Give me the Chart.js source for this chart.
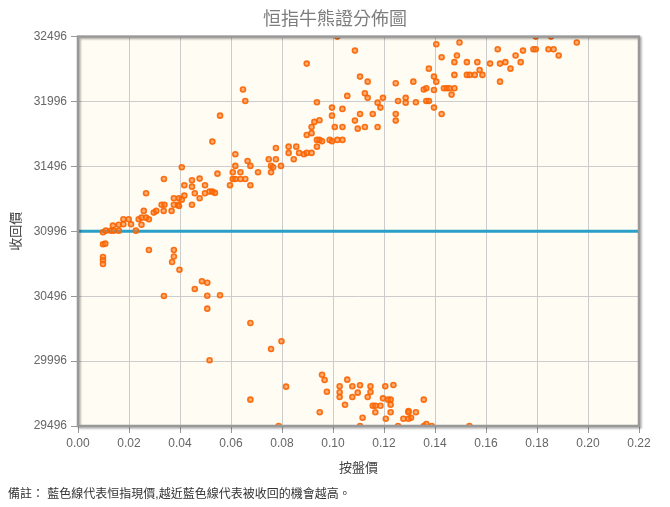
<!DOCTYPE html>
<html><head><meta charset="utf-8">
<script src="https://cdn.jsdelivr.net/npm/chart.js@4/dist/chart.umd.min.js"></script>
<style>
html,body{margin:0;padding:0;background:#fff;}
#wrap{position:relative;width:670px;height:507px;}
#note{position:absolute;left:8px;top:486px;font:12px "Liberation Sans","Noto Sans CJK TC",sans-serif;line-height:16px;color:#333;white-space:nowrap;}
</style>
</head><body>
<div id="wrap"><canvas id="c" width="670" height="507"></canvas>
<div id="note"></div></div>
<script>
const chartTitle = '恒指牛熊證分佈圖';
const xAxisTitle = '按盤價';
const yAxisTitle = '收回價';
const footNote = '備註： 藍色線代表恒指現價,越近藍色線代表被收回的機會越高。';
const xTicks = [0, 0.02, 0.04, 0.06, 0.08, 0.10, 0.12, 0.14, 0.16, 0.18, 0.20, 0.22];
const yTicks = [29496, 29996, 30496, 30996, 31496, 31996, 32496];
const spotLevel = 30996;

const bearPrice = [
0.0098,0.0109,0.0129,0.0140,0.0160,0.0227,0.0137,0.0160,0.0178,0.0178,
0.0199,0.0208,0.0238,0.0249,0.0267,0.0278,0.0249,0.0258,0.0297,0.0307,
0.0336,0.0367,0.0328,0.0339,0.0376,0.0392,0.0396,0.0447,0.0376,0.0396,
0.0407,0.0417,0.0477,0.0458,0.0498,0.0516,0.0527,0.0537,0.0417,0.0447,
0.0498,0.0447,0.0477,0.0337,0.0267,0.0407,0.0547,0.0527,0.0557,0.0647,
0.0656,0.0607,0.0637,0.0706,0.0757,0.0607,0.0617,0.0637,0.0656,0.0596,
0.0676,0.0617,0.0676,0.0617,0.0665,0.0748,0.0757,0.0765,0.0776,0.0776,
0.0796,0.0826,0.0856,0.0826,0.0867,0.0886,0.0897,0.0916,0.0846,0.0937,
0.0937,0.0947,0.0957,0.0987,0.0996,0.1017,0.1037,0.0897,0.0916,0.0916,
0.0927,0.0947,0.1007,0.1037,0.0996,0.0996,0.1037,0.0937,0.0897,0.1017,
0.1086,0.1056,0.1106,0.1136,0.1125,0.1136,0.1086,0.1097,0.1106,0.1125,
0.1156,0.1175,0.1175,0.1186,0.1196,0.1246,0.1246,0.1246,0.1255,0.1285,
0.1285,0.1315,0.1325,0.1356,0.1366,0.1366,0.1376,0.1376,0.1396,0.1405,
0.1396,0.1396,0.1426,0.1405,0.1426,0.1435,0.1446,0.1456,0.1476,0.1465,
0.1476,0.1476,0.1486,0.1496,0.1525,0.1525,0.1536,0.1556,0.1566,0.1575,
0.1586,0.1616,0.1646,0.1655,0.1655,0.1676,0.1696,0.1716,0.1736,0.1745,
0.1795,0.1786,0.1795,0.1855,0.1845,0.1865,0.1885,0.1956
];
const bearCall = [
30989,31001,31001,31001,31001,31001,31040,31047,31050,31089,
31089,31050,31089,31101,31101,31089,31047,31153,31140,31153,
31153,31153,31201,31201,31201,31201,31191,31201,31251,31251,
31240,31271,31251,31289,31289,31302,31302,31292,31351,31340,
31351,31389,31402,31399,31289,31490,31440,31687,31887,32088,
32000,31451,31451,31451,31451,31399,31399,31399,31399,31351,
31351,31500,31500,31590,31538,31551,31500,31490,31551,31638,
31500,31648,31648,31600,31600,31590,31600,31600,31551,31648,
31700,31700,31690,31700,31690,31700,31700,31738,31752,31800,
31839,31852,31800,31800,31949,31887,31939,31990,32288,32496,
32388,32039,32188,32149,32060,32024,31849,31787,31900,31800,
31900,31800,31987,31949,32024,32137,31900,31849,32000,32024,
31987,32149,31990,32088,32098,32000,32000,32249,32188,32149,
32085,31949,31900,32437,32337,32098,32098,32098,32098,32049,
32299,32201,32350,32450,32299,32201,32201,32201,32299,32239,
32201,32288,32399,32288,32149,32299,32249,32350,32299,32388,
32496,32399,32399,32496,32399,32399,32350,32450
];
const bullPrice = [
0.0098,0.0107,0.0098,0.0098,0.0098,0.0278,0.0376,0.0376,0.0369,0.0398,
0.0486,0.0507,0.0458,0.0337,0.0507,0.0557,0.0507,0.0676,0.0757,0.0516,
0.0676,0.0798,0.0816,0.0787,0.0957,0.0967,0.0976,0.0948,0.1026,0.1026,
0.1026,0.1047,0.1056,0.1076,0.1076,0.1097,0.1106,0.1106,0.1116,0.1136,
0.1147,0.1147,0.1156,0.1166,0.1186,0.1166,0.1196,0.1205,0.1216,0.1226,
0.1226,0.1226,0.1237,0.1207,0.1255,0.1276,0.1296,0.1296,0.1306,0.1296,
0.1325,0.1356,0.1356,0.1366,0.1387,0.1535
];
const bullCall = [
30896,30901,30798,30773,30744,30852,30852,30802,30760,30700,
30611,30600,30552,30498,30500,30503,30400,30290,30089,30002,
29699,30149,29799,29496,29891,29850,29760,29602,29802,29756,
29719,29660,29853,29802,29719,29753,29810,29496,29560,29719,
29802,29758,29652,29652,29652,29602,29709,29802,29699,29699,
29660,29602,29812,29552,29496,29552,29612,29602,29560,29552,
29602,29699,29496,29511,29496,29496
];

document.getElementById('note').textContent = footNote;

const FONT = '"Liberation Sans","Noto Sans CJK TC",sans-serif';
Chart.defaults.font.family = FONT;

const toPts = (xs, ys) => xs.map((x, i) => ({x: x, y: ys[i]}));
const spotLine = [{x: xTicks[0], y: spotLevel}, {x: xTicks[xTicks.length - 1], y: spotLevel}];

const pointStyle = {
  showLine: false,
  pointRadius: 2.5,
  pointBorderWidth: 1.6,
  pointBorderColor: 'rgba(250,100,0,0.9)',
  pointBackgroundColor: 'rgba(255,120,30,0.6)',
  pointHoverRadius: 2.5,
  clip: 0,
  order: 0
};

const plotDecor = {
  id: 'plotDecor',
  beforeDraw(chart) {
    const a = chart.chartArea, ctx = chart.ctx;
    ctx.save();
    ctx.fillStyle = '#fffcf3';
    ctx.fillRect(a.left, a.top, a.right - a.left, a.bottom - a.top);
    ctx.restore();
  },
  afterDraw(chart) {
    const a = chart.chartArea, ctx = chart.ctx;
    ctx.save();
    ctx.shadowColor = 'rgba(0,0,0,0.3)';
    ctx.shadowOffsetX = 1.5;
    ctx.shadowOffsetY = 1.5;
    ctx.shadowBlur = 2;
    ctx.strokeStyle = '#999999';
    ctx.lineWidth = 2.5;
    ctx.strokeRect(a.left, a.top, a.right - a.left, a.bottom - a.top);
    ctx.restore();
  }
};

new Chart(document.getElementById('c'), {
  type: 'scatter',
  data: {
    datasets: [
      Object.assign({label: '熊證', data: toPts(bearPrice, bearCall)}, pointStyle),
      Object.assign({label: '牛證', data: toPts(bullPrice, bullCall)}, pointStyle),
      {
        label: '恒指現價',
        data: spotLine,
        showLine: true,
        borderColor: '#2a9fc8',
        borderWidth: 3,
        pointRadius: 0,
        pointHoverRadius: 0,
        order: 1
      }
    ]
  },
  options: {
    responsive: false,
    animation: false,
    devicePixelRatio: 1,
    layout: {padding: {left: 0, right: 0, top: 0, bottom: 20}},
    plugins: {
      legend: {display: false},
      tooltip: {enabled: false},
      title: {
        display: true,
        text: chartTitle,
        color: '#7d7d7d',
        font: {size: 18, weight: 'normal', family: FONT},
        padding: {top: 9, bottom: 6}
      }
    },
    scales: {
      x: {
        type: 'linear',
        min: xTicks[0],
        max: xTicks[xTicks.length - 1],
        afterBuildTicks: s => { s.ticks = xTicks.map(v => ({value: v})); },
        afterFit: s => { s.height = 61; },
        ticks: {
          color: '#666',
          font: {size: 12},
          padding: 3,
          maxRotation: 0,
          autoSkip: false,
          callback: v => Number(v).toFixed(2)
        },
        grid: {color: '#cccccc', lineWidth: 1, tickLength: 7, tickColor: '#999'},
        border: {display: false},
        title: {display: true, text: xAxisTitle, color: '#444', font: {size: 13}, padding: {top: 0, bottom: 11}}
      },
      y: {
        type: 'linear',
        min: yTicks[0],
        max: yTicks[yTicks.length - 1],
        afterBuildTicks: s => { s.ticks = yTicks.map(v => ({value: v})); },
        afterFit: s => { s.width = 78; },
        ticks: {color: '#666', font: {size: 12}, padding: 4, autoSkip: false, callback: v => String(v)},
        grid: {color: '#cccccc', lineWidth: 1, tickLength: 7, tickColor: '#999'},
        border: {display: false},
        title: {display: true, text: yAxisTitle, color: '#444', font: {size: 13}, padding: {top: 9, bottom: 0}}
      },
      yRight: {
        type: 'linear',
        position: 'right',
        display: true,
        min: yTicks[0],
        max: yTicks[yTicks.length - 1],
        afterFit: s => { s.width = 31; },
        ticks: {display: false},
        grid: {display: false, drawTicks: false},
        border: {display: false}
      }
    }
  },
  plugins: [plotDecor]
});
</script>
</body></html>
